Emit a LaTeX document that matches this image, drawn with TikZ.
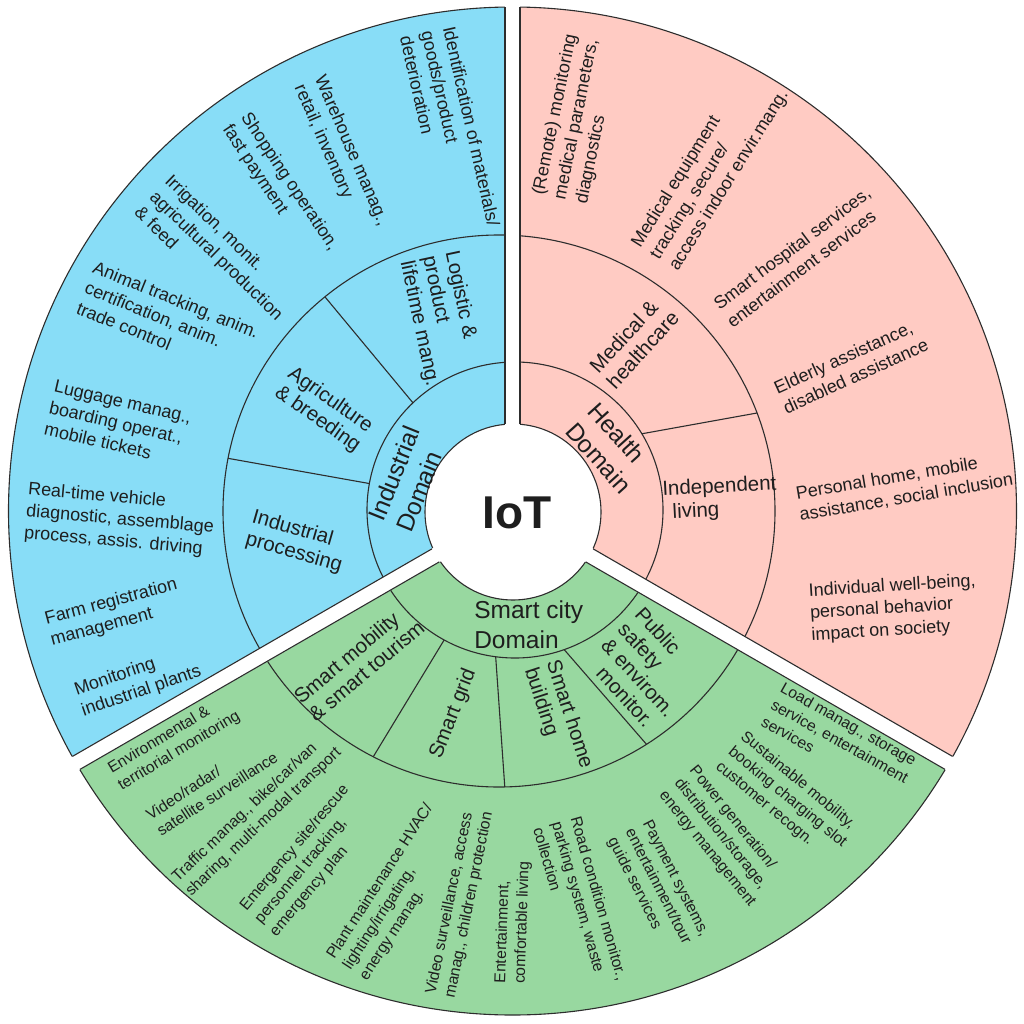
\documentclass[tikz,border=0pt]{standalone}
\usepackage{fontspec}
\setmainfont{Liberation Sans}
\usetikzlibrary{calc}
\definecolor{bluec}{RGB}{136,221,247}
\definecolor{pinkc}{RGB}{255,203,195}
\definecolor{greenc}{RGB}{152,216,160}
\definecolor{linec}{RGB}{45,45,45}
\definecolor{txtc}{RGB}{30,30,30}
\begin{document}
\begin{tikzpicture}[x=1pt,y=-1pt,
  ol/.style={draw=linec, line width=1.1pt},
  gapbar/.style={draw=white, line width=15.5pt},
  txB/.style={font=\fontsize{18}{22}\selectfont, text=txtc, align=left, inner sep=0pt},
  txG/.style={font=\fontsize{15.7}{19.5}\selectfont, text=txtc, align=left, inner sep=0pt},
  txS/.style={font=\fontsize{20.5}{23}\selectfont, text=txtc, align=left, inner sep=0pt},
  txD/.style={font=\fontsize{24.5}{30}\selectfont, text=txtc, align=left, inner sep=0pt}]
\useasboundingbox (0,0) rectangle (1024,1024);
\coordinate (C) at (512.5,511);
\coordinate (C2) at (499,511);
\coordinate (C3) at (515,510);
\coordinate (C0) at (513,512);
% sector fills
\begin{scope}
  \clip (C) circle[radius=504];
  \fill[bluec] (512.5,511) -- (512.5,-50) -- (-60,-50) -- (-180.3,911) -- cycle;
  \fill[pinkc] (512.5,511) -- (512.5,-50) -- (1100,-50) -- (1205.3,911) -- cycle;
  \fill[greenc] (512.5,511) -- (-180.3,911) -- (-180,1100) -- (1205,1100) -- (1205.3,911) -- cycle;
\end{scope}
% rings
\draw[ol] (C) circle[radius=504];
\draw[ol] (C2) circle[radius=276];
\draw[ol] (C3) circle[radius=148];
% dividers of the middle ring
\draw[ol] ($(C3)+(226.4:148)$) -- ($(C2)+(230.9:276)$);
\draw[ol] ($(C3)+(190.3:148)$) -- ($(C2)+(191:276)$);
\draw[ol] ($(C3)+(-31:148)$) -- ($(C2)+(-20.8:276)$);
\draw[ol] ($(C3)+(118.6:148)$) -- ($(C2)+(117.1:276)$);
\draw[ol] ($(C3)+(97.5:148)$) -- ($(C2)+(88.8:276)$);
\draw[ol] ($(C3)+(70.6:148)$) -- ($(C2)+(57.7:276)$);
% centre disc
\fill[white] (C0) circle[radius=88];
\draw[ol] (C0) circle[radius=88];
% gaps
\draw[gapbar] (C) -- (512.5,-20);
\draw[gapbar] (C) -- (-180.3,911);
\draw[gapbar] (C) -- (1205.3,911);
% gap edges
\draw[ol] (505,424.4) -- (505,7.1);
\draw[ol] (520,424.3) -- (520,7.1);
\draw[ol] (431.95,548.85) -- (72.35,756.45);
\draw[ol] (439.4,561.85) -- (79.85,769.45);
\draw[ol] (585.6,561.85) -- (945.1,769.45);
\draw[ol] (593.1,548.85) -- (952.6,756.45);
% centre
\node[font=\fontsize{46}{50}\selectfont\bfseries, text=txtc, inner sep=0pt] (iot) at (517,513) {IoT};
% industrial domain
\node[txD, rotate=68] (d1) at (408,479) {Industrial\\Domain};
\node[txS, rotate=-78] (s1) at (441.6,319) {Logistic \&\\product\\lifetime mang.};
\node[txS, rotate=-35] (s2) at (324,410) {Agriculture\\\& breeding};
\node[txS, rotate=-16] (s3) at (297,542) {Industrial\\processing};
\node[txB, rotate=-77.3] (b1) at (450,131) {Identification of materials/\\goods/product\\deterioration};
\node[txB, rotate=-66.5] (b2) at (341,155.5) {Warehouse manag.,\\retail, inventory};
\node[txB, rotate=-56.3] (b3) at (280,188) {Shopping operation,\\fast payment};
\node[txB, rotate=-44] (b4) at (217,255) {Irrigation, monit.\\agricultural production\\\& feed};
\node[txB, rotate=-22] (b5) at (168,320) {Animal tracking, anim.\\certification, anim.\\trade control};
\node[txB, rotate=-13] (b6) at (118,423) {Luggage manag.,\\boarding operat.,\\mobile tickets};
\node[txB, rotate=-5] (b7) at (120,520) {Real-time vehicle\\diagnostic, assemblage\\process, assis. driving};
\node[txB, rotate=15] (b8) at (114,613) {Farm registration\\management};
\node[txB, rotate=19] (b9) at (138,681) {Monitoring\\industrial plants};
% health domain
\node[txD, rotate=-48] (d2) at (610,448) {Health\\Domain};
\node[txS, rotate=47.5] (ps1) at (634,342) {Medical \&\\healthcare};
\node[txS, rotate=3] (ps2) at (720,499) {Independent\\\hspace*{9pt}living};
\node[txB, rotate=78.5] (p1) at (577,119) {(Remote) monitoring\\medical parameters,\\diagnostics};
\node[txB, rotate=58] (p2) at (710.6,169) {Medical equipment\\tracking, secure/\\access indoor envir.mang.};
\node[txB, rotate=37] (p3) at (798.6,257) {Smart hospital services,\\entertainment services};
\node[txB, rotate=24.5] (p4) at (851,366) {Elderly assistance,\\disabled assistance};
\node[txB, rotate=9.5] (p5) at (904.5,487) {Personal home, mobile\\assistance, social inclusion};
\node[txB, rotate=3.5] (p6) at (893.6,608.6) {Individual well-being,\\personal behavior\\impact on society};
% smart city domain
\node[txD] (d3) at (528.7,625) {Smart city\\Domain};
\node[txS, rotate=40] (gs1) at (359,662) {Smart mobility\\\& smart tourism};
\node[txS, rotate=68.6] (gs2) at (453.3,714) {Smart grid};
\node[txS, rotate=-72] (gs3) at (558,718) {Smart home\\building};
\node[txS, rotate=-47.5] (gs4) at (647,669.5) {Public\\safety\\\& envirom.\\\hspace*{18pt}monitor.};
\node[txG, rotate=31] (g1) at (174.3,742.7) {Environmental \&\\territorial monitoring};
\node[txG, rotate=33] (g2) at (211.8,785.8) {Video/radar/\\satellite surveillance};
\node[txG, rotate=43.6] (g3) at (257,815) {Traffic manag., bike/car/van\\sharing, multi-modal transport};
\node[txG, rotate=50] (g4) at (309.7,860.7) {Emergency site/rescue\\personnel tracking,\\emergency plan};
\node[txG, rotate=57] (g5) at (396.6,892.4) {Plant maintenance HVAC/\\lighting/irrigating,\\energy manag.};
\node[txG, rotate=78.5] (g6) at (459.8,903) {Video surveillance, access\\manag., children protection};
\node[txG, rotate=88] (g7) at (512.9,922.4) {Entertainment,\\comfortable living};
\node[txG, rotate=-74] (g8) at (580.5,903.7) {Road condition monitor.,\\parking system, waste\\collection};
\node[txG, rotate=-63] (g9) at (657.8,887.3) {Payment systems,\\entertainment/tour\\guide services};
\node[txG, rotate=-51] (g10) at (722.5,836.6) {Power generation/\\distribution/storage,\\energy management};
\node[txG, rotate=-39.5] (g11) at (787.4,797.4) {Sustainable mobility,\\booking charging slot\\customer recogn.};
\node[txG, rotate=-29.4] (g12) at (839.8,741.3) {Load manag., storage\\service, entertainment\\services};
\end{tikzpicture}
\end{document}
